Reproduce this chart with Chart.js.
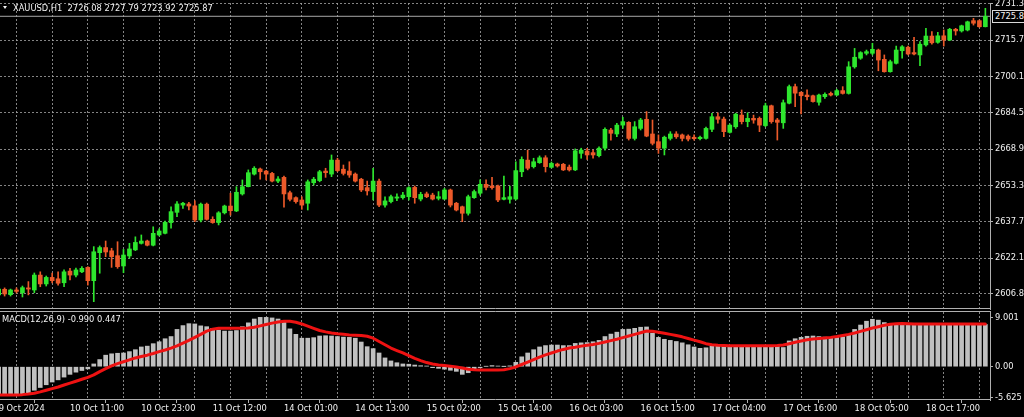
<!DOCTYPE html>
<html><head><meta charset="utf-8">
<script src="https://cdn.jsdelivr.net/npm/chart.js@4.4.1/dist/chart.umd.min.js"></script>
<style>
html,body{margin:0;padding:0;background:#000;width:1024px;height:417px;overflow:hidden;}
#wrap{position:relative;width:1024px;height:417px;background:#000;}
canvas{position:absolute;left:0;}
#cMain{top:0;}
#cMacd{top:310px;}
.lbl{position:absolute;font-family:"DejaVu Sans",sans-serif;font-size:8.3px;color:#f2f2f2;white-space:pre;line-height:10px;}
#tri{position:absolute;left:3px;top:6px;width:0;height:0;border-left:2.5px solid transparent;border-right:2.5px solid transparent;border-top:3.5px solid #f2f2f2;}
</style></head>
<body><div id="wrap">
<canvas id="cMain" width="1024" height="310"></canvas>
<canvas id="cMacd" width="1024" height="107"></canvas>
<div id="tri"></div>
<div class="lbl" id="hdr" style="left:13px;top:3px;"></div>
<div class="lbl" id="macdHdr" style="left:2px;top:314px;"></div>
<div class="lbl" id="bidBox" style="left:992px;top:10px;width:30px;height:11px;line-height:11px;border:1px solid #d8d8d8;border-right:none;background:#000;overflow:hidden;padding-left:2px;"></div>
</div>
<script>
// ---------- texts ----------
const symbolTitle = "XAUUSD,H1";
const headerOHLC = ["2726.08", "2727.79", "2723.92", "2725.87"];
const macdTitle = "MACD(12,26,9)";
const macdHeaderValues = ["-0.990", "0.447"];
const bidPrice = 2725.87;

// ---------- axis ticks ----------
const timeTickIndex = [0, 12, 24, 36, 48, 60, 72, 84, 96, 108, 120, 132, 144, 156];
const timeTickLabels = ["9 Oct 2024", "10 Oct 11:00", "10 Oct 23:00", "11 Oct 12:00", "14 Oct 01:00",
  "14 Oct 13:00", "15 Oct 02:00", "15 Oct 14:00", "16 Oct 03:00", "16 Oct 15:00", "17 Oct 04:00",
  "17 Oct 16:00", "18 Oct 05:00", "18 Oct 17:00"];
const priceTicks = [2731.3, 2715.7, 2700.1, 2684.5, 2668.9, 2653.3, 2637.7, 2622.1, 2606.8];
const macdTicks = [9.001, 0, -5.625];
const macdTickLabels = ["9.001", "0.00", "-5.625"];

// ---------- H1 candles ----------
const open = [
2606.4,2608.8,2606.5,2608.5,2607.3,2609.4,2608.5,2614.9,2611.1,2613.9,
2613.3,2611.6,2616.6,2614.9,2616.3,2618.2,2612.5,2624.5,2626.7,2625.3,
2623.2,2618.8,2623.1,2625.7,2628.5,2629.5,2627.7,2632.1,2632.8,2637.4,
2641.8,2644.9,2645.4,2644.6,2638.5,2645.3,2638.8,2637.4,2641.6,2644.5,
2642.4,2649.7,2652.8,2658.2,2660.4,2659.5,2658.5,2655.2,2656.8,2650.2,
2648.1,2647.1,2645.7,2654.5,2655.4,2659.5,2658.2,2664.2,2660.3,2659.5,
2658.2,2656.0,2652.4,2650.7,2655.2,2644.9,2646.4,2647.9,2648.1,2648.5,
2652.5,2647.5,2649.7,2649.2,2647.8,2647.5,2651.4,2645.7,2644.2,2641.4,
2648.1,2650.0,2653.8,2653.1,2653.1,2647.4,2647.4,2647.5,2659.2,2664.2,
2661.4,2663.1,2665.2,2661.1,2662.5,2662.4,2661.2,2660.0,2667.1,2668.1,
2667.4,2666.1,2669.3,2677.1,2675.4,2679.2,2680.4,2673.5,2677.8,2681.7,
2675.4,2672.1,2669.3,2673.5,2675.4,2675.0,2674.5,2674.0,2673.4,2673.5,
2677.4,2682.8,2681.8,2676.1,2678.5,2683.5,2680.7,2682.1,2682.1,2679.0,
2687.5,2681.4,2680.2,2688.6,2695.7,2693.3,2692.1,2691.8,2689.0,2691.4,
2692.8,2692.1,2694.0,2692.8,2704.2,2707.9,2710.0,2710.0,2711.4,2707.4,
2702.1,2705.7,2711.1,2712.6,2710.3,2709.3,2713.6,2717.4,2714.7,2717.5,
2715.7,2720.3,2719.6,2720.0,2724.0,2724.0,2721.4];
const high = [
2609.8,2609.4,2608.9,2609.4,2610.2,2612.1,2615.8,2616.3,2614.5,2615.8,
2616.3,2617.1,2617.8,2617.9,2618.5,2618.5,2627.1,2627.4,2629.5,2626.4,
2629.2,2625.9,2628.5,2631.3,2632.1,2629.9,2635.6,2634.7,2638.1,2644.2,
2646.4,2646.1,2646.1,2646.8,2645.8,2645.8,2639.9,2642.1,2644.9,2650.0,
2652.8,2655.7,2660.0,2661.4,2660.8,2659.8,2659.0,2657.1,2657.4,2650.9,
2648.5,2648.5,2655.7,2656.8,2659.8,2660.7,2666.4,2665.0,2662.1,2663.5,
2658.7,2656.4,2655.2,2660.7,2656.1,2648.5,2649.2,2649.7,2650.4,2652.8,
2653.1,2650.4,2650.5,2650.0,2650.7,2652.1,2651.8,2646.1,2644.5,2649.2,
2651.4,2655.7,2655.7,2656.8,2653.5,2657.4,2653.1,2663.5,2665.6,2668.5,
2665.0,2666.0,2666.1,2663.4,2662.9,2662.8,2662.1,2669.0,2669.3,2669.3,
2668.5,2669.9,2678.0,2677.8,2680.0,2682.6,2680.7,2680.7,2682.1,2685.0,
2681.4,2675.0,2674.5,2676.4,2676.4,2675.4,2675.0,2675.0,2674.5,2678.4,
2684.3,2684.5,2682.7,2679.7,2684.3,2685.7,2684.5,2683.5,2682.7,2688.6,
2687.8,2682.1,2690.0,2696.4,2696.8,2693.5,2694.3,2692.1,2692.5,2693.1,
2693.4,2694.6,2695.7,2706.4,2712.1,2710.7,2711.4,2714.3,2711.8,2709.3,
2707.1,2713.1,2713.3,2713.1,2716.9,2715.0,2720.7,2719.3,2719.0,2720.0,
2720.7,2720.7,2722.1,2723.8,2725.0,2724.3,2729.3];
const low = [
2605.5,2605.9,2605.9,2607.2,2605.5,2606.4,2607.3,2609.9,2610.2,2611.5,
2610.6,2609.9,2612.8,2614.1,2615.9,2610.6,2603.5,2615.7,2622.8,2618.2,
2617.8,2615.9,2622.1,2625.4,2628.2,2627.4,2627.4,2631.7,2632.5,2635.0,
2639.9,2643.5,2642.8,2637.8,2637.7,2638.5,2637.1,2636.4,2641.1,2640.6,
2642.1,2649.2,2652.7,2657.8,2656.0,2655.7,2654.8,2654.5,2644.0,2646.7,
2645.7,2643.1,2642.8,2653.5,2654.9,2656.8,2657.1,2659.2,2657.8,2656.8,
2654.8,2650.7,2649.2,2647.1,2644.2,2644.0,2645.8,2646.8,2647.5,2647.1,
2645.7,2646.7,2648.1,2647.1,2647.1,2647.2,2644.1,2642.4,2637.8,2640.6,
2647.8,2649.2,2651.4,2651.7,2646.4,2647.1,2645.7,2647.1,2657.1,2660.0,
2660.8,2662.8,2659.1,2660.8,2661.2,2659.7,2659.5,2659.7,2665.0,2664.5,
2665.0,2665.6,2668.5,2672.8,2674.2,2677.8,2672.8,2672.8,2677.1,2674.2,
2670.7,2667.1,2666.4,2672.8,2673.5,2672.4,2672.4,2672.8,2672.9,2673.2,
2676.4,2680.0,2674.2,2675.8,2677.8,2679.7,2678.5,2680.0,2676.4,2678.5,
2680.0,2672.8,2677.8,2688.3,2687.1,2684.0,2690.0,2689.0,2687.8,2690.7,
2691.7,2691.8,2692.5,2692.5,2703.6,2707.4,2709.3,2709.3,2702.5,2701.9,
2701.9,2705.4,2707.9,2709.3,2709.3,2704.7,2713.1,2713.9,2714.3,2713.1,
2715.4,2717.8,2719.1,2719.6,2722.1,2721.1,2721.3];
const close = [
2608.9,2606.8,2608.5,2607.9,2609.5,2608.9,2614.9,2611.1,2613.9,2612.5,
2611.4,2616.3,2614.9,2617.1,2617.8,2612.5,2624.9,2626.7,2624.8,2622.8,
2618.5,2623.5,2626.1,2628.9,2629.5,2627.7,2632.8,2633.8,2637.5,2642.1,
2645.4,2645.7,2644.5,2638.5,2645.3,2638.8,2637.4,2641.6,2644.5,2642.5,
2650.4,2652.8,2658.8,2660.7,2659.2,2658.2,2655.2,2656.1,2649.7,2647.4,
2646.4,2644.9,2654.9,2656.0,2659.2,2658.8,2664.2,2659.7,2658.5,2657.8,
2655.2,2651.4,2651.0,2655.2,2644.9,2646.7,2648.5,2648.4,2649.2,2652.4,
2648.1,2649.5,2648.5,2647.5,2648.5,2651.4,2644.9,2642.8,2641.4,2648.5,
2650.7,2653.8,2652.5,2652.4,2647.1,2648.1,2648.5,2659.7,2664.5,2660.7,
2663.5,2665.2,2661.4,2662.8,2661.7,2660.0,2660.0,2668.2,2668.5,2666.4,
2666.4,2669.3,2677.4,2675.7,2679.2,2680.7,2673.5,2678.5,2681.4,2674.5,
2671.4,2669.3,2674.0,2675.4,2674.2,2673.5,2673.2,2673.4,2674.0,2677.8,
2682.8,2681.7,2676.4,2679.2,2683.9,2680.7,2682.1,2681.4,2679.2,2687.5,
2680.7,2680.4,2688.8,2695.7,2692.9,2691.8,2691.4,2689.3,2692.1,2692.4,
2692.1,2694.0,2692.8,2704.2,2708.3,2710.3,2710.7,2711.7,2707.1,2702.1,
2706.4,2711.4,2712.8,2709.7,2709.7,2713.9,2717.4,2714.5,2717.5,2715.7,
2720.3,2719.6,2721.8,2723.5,2722.9,2721.4,2725.87];

// ---------- MACD(12,26,9) ----------
const macdMain = [
-5.2,-5.1,-5.05,-5.0,-4.95,-4.8,-4.3,-3.8,-3.3,-2.8,
-2.4,-1.9,-1.4,-1.0,-0.7,-0.4,0.5,1.3,2.1,2.35,
2.45,2.5,2.75,3.1,3.6,3.75,4.2,4.55,5.1,5.5,
6.8,7.5,7.85,7.8,7.45,7.3,7.0,6.7,6.5,6.5,
6.6,7.3,8.0,8.7,9.0,9.0,8.9,8.7,8.3,6.9,
5.9,5.2,5.2,5.3,5.6,5.65,5.6,5.5,5.4,5.35,
5.2,4.5,3.65,3.3,2.5,1.6,1.05,0.72,0.5,0.45,
0.3,0.18,0.12,-0.18,-0.3,-0.45,-0.65,-0.85,-1.4,-1.1,
-0.6,-0.2,0.05,0.2,0.12,0.02,0.15,0.8,1.8,2.5,
3.1,3.6,3.85,3.95,3.95,3.85,3.85,4.25,4.35,4.4,
4.55,4.8,5.5,5.95,6.3,6.8,6.85,7.0,7.2,7.25,
6.1,5.35,5.0,4.8,4.6,4.35,4.0,3.6,3.35,3.45,
3.75,3.75,3.7,3.7,3.65,3.7,3.7,3.75,3.7,3.65,
3.7,3.7,3.5,4.7,5.1,5.35,5.55,5.6,5.5,5.4,
5.35,5.35,5.45,5.9,6.8,7.6,8.3,8.65,8.5,8.05,
7.8,7.8,7.9,7.9,7.75,7.7,7.7,7.75,7.7,7.7,
7.7,7.75,7.7,7.7,7.75,7.7,7.7];
const macdSignal = [
-5.17,-5.17,-5.17,-5.15,-5.1,-5.0,-4.85,-4.6,-4.3,-4.0,
-3.7,-3.35,-3.0,-2.65,-2.3,-1.95,-1.5,-0.9,-0.35,0.15,
0.55,0.9,1.25,1.6,1.85,2.1,2.4,2.75,3.05,3.4,
3.8,4.3,4.8,5.35,5.9,6.5,6.85,7.0,7.0,7.0,
7.0,7.0,7.05,7.2,7.45,7.7,7.95,8.15,8.3,8.3,
8.1,7.8,7.4,7.0,6.6,6.35,6.15,6.0,5.9,5.8,
5.75,5.7,5.55,5.2,4.6,4.0,3.4,2.95,2.5,2.0,
1.5,1.1,0.75,0.5,0.3,0.2,0.1,-0.05,-0.25,-0.45,
-0.55,-0.6,-0.62,-0.62,-0.6,-0.55,-0.35,-0.05,0.4,0.85,
1.3,1.75,2.15,2.5,2.85,3.15,3.4,3.55,3.75,3.9,
4.05,4.25,4.5,4.75,5.0,5.3,5.6,5.9,6.2,6.5,
6.45,6.3,6.1,5.9,5.7,5.45,5.15,4.85,4.55,4.2,
4.0,3.9,3.85,3.82,3.8,3.8,3.8,3.8,3.8,3.8,
3.8,3.85,3.95,4.2,4.45,4.7,4.9,5.05,5.15,5.25,
5.35,5.5,5.7,5.9,6.15,6.45,6.75,7.05,7.3,7.55,
7.75,7.85,7.9,7.85,7.8,7.8,7.8,7.8,7.8,7.8,
7.8,7.8,7.8,7.8,7.8,7.8,7.8];

// ---------- styling / layout ----------
const XMIN = 0.224, XMAX = 166.78;
const PRICE_MIN = 2600.35, PRICE_MAX = 2731.57;
const MACD_MIN = -6.08, MACD_MAX = 9.98;
const gridColor = 'rgba(165,165,165,0.8)';
const frameColor = '#b0b0b0';
const textColor = '#f0f0f0';
const bullColor = '#2ee62e', bearColor = '#ec5a2a';
const font = {family: '"DejaVu Sans", sans-serif', size: 8.3};

const gridTicks = [];
for (let k = 6; k < open.length; k += 6) gridTicks.push(k);

document.getElementById('hdr').textContent = symbolTitle + '  ' + headerOHLC.join(' ');
document.getElementById('macdHdr').textContent = macdTitle + ' ' + macdHeaderValues.join(' ');
document.getElementById('bidBox').textContent = bidPrice.toFixed(2);

const noPad = s => { s.paddingTop = 0; s.paddingBottom = 0; s.paddingLeft = 0; s.paddingRight = 0; };

const frame = {
  id: 'frame',
  afterDraw(chart, args, opts) {
    const {ctx, chartArea: a} = chart;
    ctx.save();
    ctx.strokeStyle = frameColor; ctx.lineWidth = 1;
    ctx.beginPath();
    (opts.sides || []).forEach(s => {
      if (s === 'top') { const y = Math.round(a.top) - 0.5; ctx.moveTo(a.left, y); ctx.lineTo(a.right + 1, y); }
      if (s === 'bottom') { const y = Math.round(a.bottom) - 0.5; ctx.moveTo(a.left, y); ctx.lineTo(a.right + 1, y); }
    });
    ctx.stroke(); ctx.restore();
  }
};

const candleColors = open.map((o, i) => close[i] >= o ? bullColor : bearColor);

function gridX() {
  return {
    type: 'linear', min: XMIN, max: XMAX, offset: false,
    afterBuildTicks: s => { s.ticks = gridTicks.map(v => ({value: v})); },
    afterFit: s => { s.height = 0; noPad(s); },
    ticks: {display: false},
    grid: {color: gridColor, drawTicks: false, lineWidth: 1},
    border: {display: false, dash: [2, 2]}
  };
}

new Chart(document.getElementById('cMain'), {
  type: 'bar',
  data: {
    datasets: [
      {type: 'line', label: 'bid', data: [{x: XMIN, y: bidPrice}, {x: XMAX, y: bidPrice}],
       borderColor: '#a8a8a8', borderWidth: 1, pointRadius: 0, order: 3, xAxisID: 'x', yAxisID: 'y'},
      {label: 'wick', data: open.map((o, i) => ({x: i, y: [low[i], high[i]]})),
       backgroundColor: candleColors, barThickness: 1, grouped: false, order: 2, xAxisID: 'x', yAxisID: 'y'},
      {label: 'body', data: open.map((o, i) => ({x: i, y: [o, close[i]]})),
       backgroundColor: candleColors, barThickness: 4, grouped: false, minBarLength: 1, order: 1, xAxisID: 'x', yAxisID: 'y'}
    ]
  },
  options: {
    responsive: false, animation: false, devicePixelRatio: 1,
    layout: {padding: {top: 3, bottom: 1, left: 0, right: 0}, autoPadding: false},
    plugins: {legend: {display: false}, tooltip: {enabled: false}, frame: {sides: ['bottom']}},
    scales: {
      x: gridX(),
      y: {
        position: 'right', min: PRICE_MIN, max: PRICE_MAX,
        afterBuildTicks: s => { s.ticks = priceTicks.map(v => ({value: v})); },
        afterFit: s => { s.width = 34; noPad(s); },
        ticks: {color: textColor, font: font, padding: 2, autoSkip: false, callback: (v) => Number(v).toFixed(1)},
        grid: {color: gridColor, drawTicks: true, tickLength: 3, tickColor: frameColor, tickBorderDash: []},
        border: {display: true, color: frameColor, width: 1, dash: [2, 2]}
      }
    }
  },
  plugins: [frame]
});

new Chart(document.getElementById('cMacd'), {
  type: 'bar',
  data: {
    datasets: [
      {type: 'line', label: 'signal', data: macdSignal.map((v, i) => ({x: i, y: v})),
       borderColor: '#ee1212', borderWidth: 3, pointRadius: 0, tension: 0, order: 0,
       borderJoinStyle: 'round', borderCapStyle: 'round', xAxisID: 'x', yAxisID: 'y'},
      {label: 'macd', data: macdMain.map((v, i) => ({x: i, y: v})),
       backgroundColor: '#c0c0c0', barThickness: 4, order: 1, xAxisID: 'x', yAxisID: 'y'}
    ]
  },
  options: {
    responsive: false, animation: false, devicePixelRatio: 1,
    layout: {padding: {top: 2, bottom: 0, left: 0, right: 0}, autoPadding: false},
    plugins: {legend: {display: false}, tooltip: {enabled: false}, frame: {sides: ['top', 'bottom']}},
    scales: {
      x: gridX(),
      x2: {
        type: 'linear', axis: 'x', position: 'bottom', min: XMIN, max: XMAX, offset: false,
        afterBuildTicks: s => { s.ticks = timeTickIndex.map(v => ({value: v})); },
        afterFit: s => { s.height = 17; noPad(s); },
        ticks: {align: 'start', color: textColor, font: font, padding: 1, autoSkip: false, maxRotation: 0, minRotation: 0,
                callback: (v, i) => timeTickLabels[i]},
        grid: {drawOnChartArea: false, drawTicks: true, tickLength: 3, color: frameColor},
        border: {display: false}
      },
      y: {
        position: 'right', min: MACD_MIN, max: MACD_MAX,
        afterBuildTicks: s => { s.ticks = macdTicks.map(v => ({value: v})); },
        afterFit: s => { s.width = 34; noPad(s); },
        ticks: {color: textColor, font: font, padding: 2, autoSkip: false, callback: (v, i) => macdTickLabels[i]},
        grid: {drawOnChartArea: false, drawTicks: true, tickLength: 3, color: frameColor},
        border: {display: true, color: frameColor, width: 1}
      }
    }
  },
  plugins: [frame]
});
</script>
</body></html>
